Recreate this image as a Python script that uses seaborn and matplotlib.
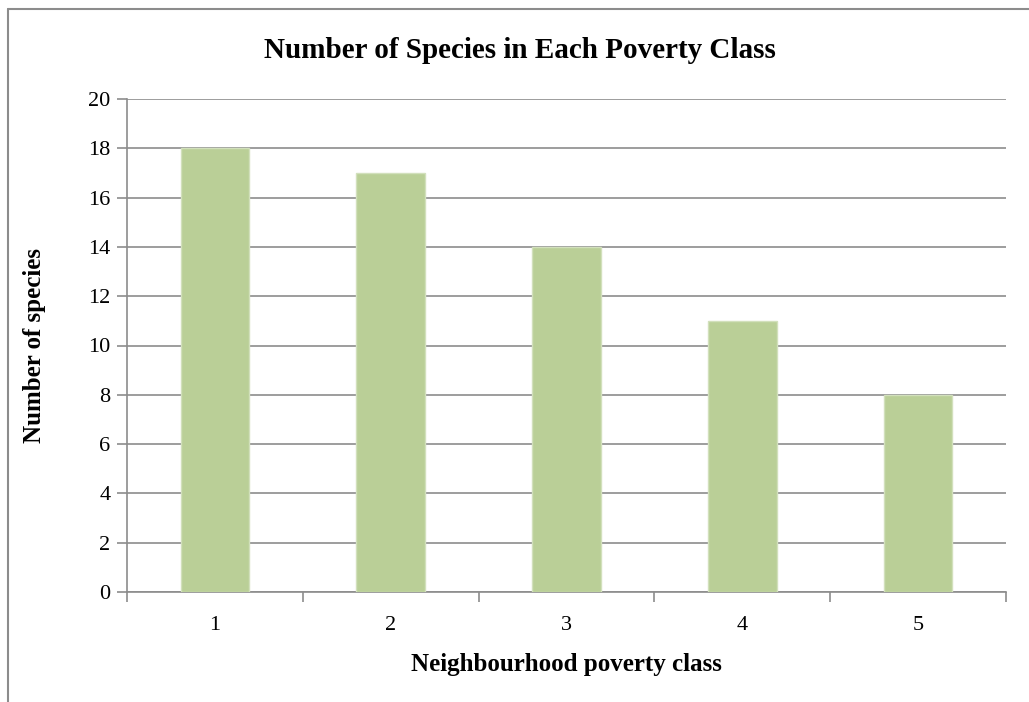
import matplotlib
matplotlib.use("Agg")
import matplotlib.pyplot as plt
import seaborn as sns
import pandas as pd
from matplotlib.lines import Line2D

categories = ["1", "2", "3", "4", "5"]
species = [18, 17, 14, 11, 8]
y_ticks = [0, 2, 4, 6, 8, 10, 12, 14, 16, 18, 20]

sns.set_theme(style="white")
plt.rcParams["font.family"] = ["Liberation Serif", "DejaVu Serif"]
plt.rcParams["text.color"] = "black"

W, H = 1029, 702
fig = plt.figure(figsize=(W / 100, H / 100), dpi=100)
ax = fig.add_axes([127 / W, 1 - 592 / H, (1006 - 127) / W, (592 - 99) / H])

df = pd.DataFrame({"cls": categories, "n": species})
sns.barplot(data=df, x="cls", y="n", color="#BACF97", saturation=1, width=0.39,
            edgecolor="#D2E0BC", linewidth=1, ax=ax, zorder=3)

ax.set_xlim(-0.5, 4.5)
ax.set_ylim(0, 20)
ax.set_yticks(y_ticks)
ax.yaxis.grid(True, color="#8C8C8C", linewidth=1.2, zorder=0)
ax.set_axisbelow(True)

# x ticks at category boundaries, labels at centres
ax.set_xticks([i - 0.5 for i in range(len(categories) + 1)])
ax.set_xticklabels([])
ax.set_xticks(range(len(categories)), minor=True)
ax.set_xticklabels(categories, minor=True)
ax.tick_params(axis="x", which="major", length=7, width=1.2, color="#8C8C8C", direction="out", bottom=True)
ax.tick_params(axis="x", which="minor", length=0, labelsize=16, pad=17, labelcolor="black")
ax.tick_params(axis="y", length=7, width=1.2, color="#8C8C8C", direction="out", left=True,
               labelsize=16, pad=5, labelcolor="black")

for s in ["top", "right"]:
    ax.spines[s].set_visible(False)
for s in ["left", "bottom"]:
    ax.spines[s].set_color("#8C8C8C")
    ax.spines[s].set_linewidth(1.2)

ax.set_xlabel("Neighbourhood poverty class", fontsize=18, fontweight="bold", labelpad=13, color="black")
ax.set_ylabel("Number of species", fontsize=18, fontweight="bold", labelpad=30, color="black")
fig.text(520 / W, 1 - 51 / H, "Number of Species in Each Poverty Class", ha="center", va="center",
         fontsize=21, fontweight="bold", color="black")

# outer chart border
x0 = 8 / W
y0 = 1 - 9 / H
fig.add_artist(Line2D([x0, 1.01], [y0, y0], color="#8C8C8C", linewidth=1.5, transform=fig.transFigure))
fig.add_artist(Line2D([x0, x0], [y0, -0.01], color="#8C8C8C", linewidth=1.5, transform=fig.transFigure))

fig.savefig("out.png", dpi=100)
